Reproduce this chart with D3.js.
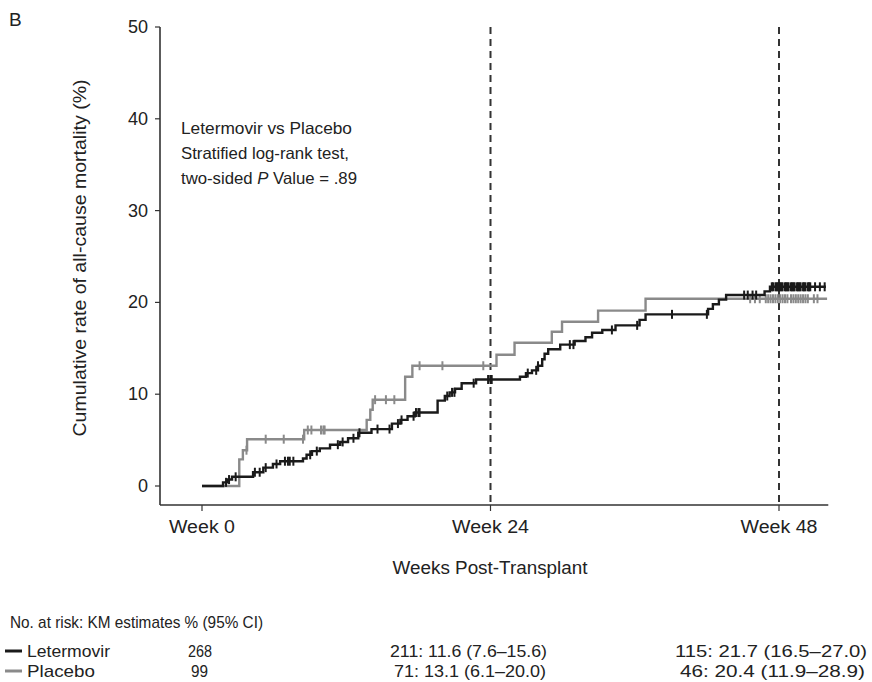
<!DOCTYPE html>
<html>
<head>
<meta charset="utf-8">
<script src="https://cdn.jsdelivr.net/npm/d3@7"></script>
<style>
  body { margin: 0; background: #fff; }
  text { font-family: "Liberation Sans", Arial, sans-serif; fill: #222; }
</style>
</head>
<body>
<div id="chart"></div>
<script>
// step points: [week, cumulative %]
const letermovirSteps = [
  [0, 0], [1.75, 0.4], [2.1, 0.7], [2.5, 1.0], [4.25, 1.5], [5.1, 2.0], [5.9, 2.4],
  [6.5, 2.7], [8.4, 3.0], [8.7, 3.4], [9.15, 3.8], [9.8, 4.1], [10.65, 4.5], [11.5, 4.8],
  [12.15, 5.2], [13.0, 5.8], [14.1, 6.2], [15.8, 6.8], [16.5, 7.2], [17.1, 7.6], [17.7, 8.0],
  [19.6, 9.3], [20.2, 9.8], [20.6, 10.2], [21.05, 10.6], [21.6, 11.2], [22.8, 11.6],
  [26.45, 11.9], [26.95, 12.3], [27.45, 12.6], [27.95, 13.1], [28.3, 13.8], [28.5, 14.4],
  [28.8, 14.9], [29.8, 15.4], [31.0, 15.8], [31.9, 16.2], [32.45, 16.7], [33.3, 17.0],
  [34.4, 17.5], [36.4, 18.1], [36.9, 18.7], [42.1, 19.3], [42.5, 19.8], [43.0, 20.3],
  [43.6, 20.8], [46.8, 21.2], [47.25, 21.7], [51.9, 21.7]
];
const letermovirCensor = [
  2.0, 2.25, 2.8, 4.4, 4.8, 5.3, 6.2, 6.9, 7.15, 7.3, 7.6, 9.0, 9.55, 11.3, 11.7, 12.6,
  13.1, 14.6, 15.6, 16.3, 16.6, 17.6, 17.8, 18.0, 18.1, 20.4, 20.8, 21.0, 22.6, 23.8,
  24.0, 24.1, 27.1, 27.8, 27.95, 30.6, 30.9, 34.1, 36.2, 39.1, 42.0, 45.1, 45.4, 45.8,
  46.1, 47.4, 47.5, 47.7, 47.8, 47.9, 48.0, 48.1, 48.2, 48.3, 48.5, 48.6, 48.7, 48.8,
  49.0, 49.1, 49.2, 49.3, 49.5, 49.6, 49.7, 49.8, 50.0, 50.1, 50.2, 50.4, 50.5, 50.6,
  51.0, 51.4, 51.8
];
const placeboSteps = [
  [0, 0], [3.1, 2.9], [3.4, 3.9], [3.75, 5.1], [8.5, 6.1], [13.7, 7.2], [14.0, 8.3],
  [14.2, 9.4], [16.9, 11.9], [17.5, 13.1], [24.5, 14.3], [26.0, 15.6], [29.1, 16.8],
  [29.95, 17.9], [32.95, 19.1], [36.9, 20.4], [52.0, 20.4]
];
const placeboCensor = [
  3.7, 5.3, 6.8, 8.4, 8.8, 9.1, 9.9, 10.1, 10.2, 14.4, 15.3, 16.0, 18.1, 20.0, 23.4,
  45.6, 46.0, 46.4, 46.9, 47.1, 47.3, 47.5, 47.7, 47.9, 48.1, 48.3, 48.5, 48.7, 49.0,
  49.2, 49.4, 49.6, 49.8, 50.0, 50.2, 50.4, 50.9, 51.2
];
const yTicks = [0, 10, 20, 30, 40, 50];
const xTicks = [0, 24, 48];
const xTickLabels = ["Week 0", "Week 24", "Week 48"];
const refWeeks = [24, 48];
const annotation = ["Letermovir vs Placebo", "Stratified log-rank test,"];
const riskRows = [
  { name: "Letermovir", color: "#1a1a1a", atRisk: ["268", "211: 11.6 (7.6\u201315.6)", "115: 21.7 (16.5\u201327.0)"] },
  { name: "Placebo", color: "#8a8a8a", atRisk: ["99", "71: 13.1 (6.1\u201320.0)", "46: 20.4 (11.9\u201328.9)"] }
];

const W = 872, H = 682;
const svg = d3.select("#chart").append("svg").attr("width", W).attr("height", H);

const x = d3.scaleLinear().domain([0, 48]).range([202, 779]);
const y = d3.scaleLinear().domain([0, 50]).range([486, 27]);
const axisY0 = 505, axisX0 = 160;
const axisColor = "#333";

// fit a text element to a width measured off the reference
function fit(sel, w) {
  return sel.attr("textLength", w).attr("lengthAdjust", "spacingAndGlyphs");
}

// axes
svg.append("line").attr("x1", axisX0).attr("x2", axisX0).attr("y1", y(50)).attr("y2", axisY0)
  .attr("stroke", axisColor).attr("stroke-width", 1.6);
svg.append("line").attr("x1", axisX0).attr("x2", x(52.1)).attr("y1", axisY0).attr("y2", axisY0)
  .attr("stroke", axisColor).attr("stroke-width", 1.6);

yTicks.forEach(t => {
  svg.append("line").attr("x1", axisX0 - 5).attr("x2", axisX0).attr("y1", y(t)).attr("y2", y(t))
    .attr("stroke", axisColor).attr("stroke-width", 1.2);
  svg.append("text").attr("x", axisX0 - 12).attr("y", y(t) + 6).attr("text-anchor", "end")
    .style("font-size", "18px").text(t);
});
xTicks.forEach((t, i) => {
  svg.append("line").attr("x1", x(t)).attr("x2", x(t)).attr("y1", axisY0).attr("y2", axisY0 + 6)
    .attr("stroke", axisColor).attr("stroke-width", 1.2);
  fit(svg.append("text").attr("x", x(t)).attr("y", 533).attr("text-anchor", "middle")
    .style("font-size", "17.5px").text(xTickLabels[i]), i === 0 ? 66 : 77);
});

// reference dashed lines
refWeeks.forEach(t => {
  svg.append("line").attr("x1", x(t)).attr("x2", x(t)).attr("y1", y(50)).attr("y2", axisY0)
    .attr("stroke", "#333").attr("stroke-width", 2).attr("stroke-dasharray", "7,5");
});

// titles
svg.append("text").attr("x", 9).attr("y", 26).style("font-size", "19px").text("B");
fit(svg.append("text").attr("transform", "translate(86, 258) rotate(-90)")
  .attr("text-anchor", "middle").style("font-size", "17.5px")
  .text("Cumulative rate of all-cause mortality (%)"), 357);
fit(svg.append("text").attr("x", 490).attr("y", 574).attr("text-anchor", "middle")
  .style("font-size", "17.5px").text("Weeks Post-Transplant"), 195);

const annW = [171, 168];
annotation.forEach((s, i) => {
  fit(svg.append("text").attr("x", 181).attr("y", 134 + i * 25).style("font-size", "16.5px").text(s), annW[i]);
});
const pv = svg.append("text").attr("x", 181).attr("y", 184).style("font-size", "16.5px");
pv.append("tspan").text("two-sided ");
pv.append("tspan").style("font-style", "italic").text("P");
pv.append("tspan").text(" Value = .89");
fit(pv, 176);

// KM curves
function stepValue(steps, t) {
  let v = 0;
  steps.forEach(d => { if (d[0] <= t) v = d[1]; });
  return v;
}
const line = d3.line().x(d => x(d[0])).y(d => y(d[1])).curve(d3.curveStepAfter);

function drawSeries(steps, censor, color) {
  svg.append("path").datum(steps).attr("d", line).attr("fill", "none")
    .attr("stroke", color).attr("stroke-width", 2.4);
  svg.append("g").selectAll("line").data(censor).enter().append("line")
    .attr("x1", d => x(d)).attr("x2", d => x(d))
    .attr("y1", d => y(stepValue(steps, d)) - 4.5)
    .attr("y2", d => y(stepValue(steps, d)) + 4.5)
    .attr("stroke", color).attr("stroke-width", 2);
}
drawSeries(placeboSteps, placeboCensor, "#8a8a8a");
drawSeries(letermovirSteps, letermovirCensor, "#1a1a1a");

fit(svg.append("text").attr("x", 10).attr("y", 628).style("font-size", "17px")
  .text("No. at risk: KM estimates % (95% CI)"), 253);
const nameW = [83, 68];
const cellX = [[188, 390, 675], [191, 394, 680]];
const cellW = [[24, 157, 192], [17, 152, 185]];
riskRows.forEach((r, i) => {
  const ry = 651 + i * 20;
  svg.append("line").attr("x1", 5).attr("x2", 22).attr("y1", ry).attr("y2", ry)
    .attr("stroke", r.color).attr("stroke-width", 3);
  fit(svg.append("text").attr("x", 27).attr("y", ry + 6).style("font-size", "17px").text(r.name), nameW[i]);
  r.atRisk.forEach((s, j) => {
    fit(svg.append("text").attr("x", cellX[i][j]).attr("y", ry + 6)
      .style("font-size", "17px").text(s), cellW[i][j]);
  });
});
</script>
</body>
</html>
